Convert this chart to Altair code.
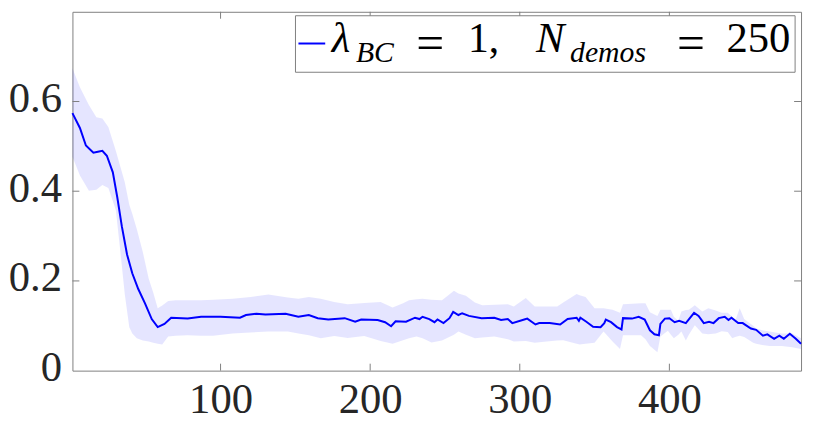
import altair as alt
import pandas as pd

# ---- data ----
x_mean = [1, 6, 10, 15, 18, 21, 24, 28, 31, 34, 37.5, 41, 45, 49.5, 54, 58, 62.5, 67, 78, 87,
          100, 113, 117, 124, 130, 143.5, 152, 159, 165, 172, 183, 190, 194, 205, 210, 214, 217,
          224, 230, 233, 235, 239.5, 243, 245, 249, 253, 255.5, 259, 261.5, 266, 274.5, 283,
          287.5, 292, 295, 303, 305, 310.5, 313, 320, 327, 332, 338, 339.5, 340.5, 344.5, 349,
          354, 356.5, 357.5, 361, 365, 368, 369, 375, 379.5, 383.5, 387, 390, 393, 394, 397, 400,
          403.5, 406.5, 411, 416.5, 419.5, 423, 426.5, 429.5, 433, 437, 439.5, 441.5, 446, 449,
          454.5, 458, 462.5, 465.5, 470, 473.5, 476.5, 480.5, 484.5, 488]
y_mean = [0.574, 0.541, 0.502, 0.486, 0.488, 0.490, 0.479, 0.442, 0.386, 0.322, 0.259, 0.217,
          0.182, 0.150, 0.115, 0.097, 0.104, 0.118, 0.116, 0.120, 0.120, 0.118, 0.124, 0.127,
          0.125, 0.127, 0.120, 0.124, 0.117, 0.114, 0.117, 0.109, 0.114, 0.113, 0.108, 0.099,
          0.110, 0.109, 0.118, 0.115, 0.120, 0.115, 0.108, 0.114, 0.106, 0.117, 0.131, 0.124,
          0.128, 0.122, 0.117, 0.118, 0.113, 0.115, 0.106, 0.114, 0.116, 0.103, 0.106, 0.106,
          0.103, 0.115, 0.118, 0.111, 0.118, 0.109, 0.098, 0.097, 0.106, 0.114, 0.108, 0.097,
          0.092, 0.117, 0.116, 0.120, 0.114, 0.090, 0.081, 0.079, 0.104, 0.116, 0.117, 0.108,
          0.111, 0.106, 0.129, 0.122, 0.106, 0.109, 0.106, 0.117, 0.120, 0.113, 0.118, 0.106,
          0.106, 0.094, 0.091, 0.078, 0.081, 0.071, 0.078, 0.071, 0.082, 0.071, 0.060]

x_band = [1, 6, 12, 17, 21, 25, 30, 33, 36, 39,
          41, 44, 48, 52, 55, 58, 61, 65, 70, 78,
          87, 95, 108, 120, 132, 145, 152, 159, 167, 176,
          185, 196, 207, 215, 222, 226, 231, 235, 241, 248,
          256, 259, 264, 270, 275, 283, 292, 296, 304, 310,
          318, 325, 329, 338, 340, 344, 350, 356, 362, 367,
          369, 375, 381, 384, 387, 392, 394, 399, 401, 403,
          406, 408, 411, 413, 417, 422, 426, 431, 435, 439,
          442, 444, 447, 450, 456, 458, 462, 467, 475, 482,
          488]
band_upper = [0.674, 0.632, 0.592, 0.565, 0.562, 0.543, 0.490, 0.455, 0.420, 0.370,
              0.350, 0.316, 0.265, 0.205, 0.174, 0.139, 0.145, 0.155, 0.157, 0.157,
              0.157, 0.158, 0.160, 0.164, 0.170, 0.163, 0.160, 0.164, 0.160, 0.153,
              0.148, 0.151, 0.153, 0.141, 0.150, 0.157, 0.159, 0.160, 0.158, 0.157,
              0.178, 0.172, 0.167, 0.152, 0.146, 0.147, 0.148, 0.143, 0.162, 0.143,
              0.143, 0.143, 0.152, 0.171, 0.168, 0.164, 0.139, 0.139, 0.136, 0.129,
              0.148, 0.149, 0.150, 0.150, 0.130, 0.122, 0.136, 0.136, 0.136, 0.120,
              0.111, 0.132, 0.135, 0.136, 0.146, 0.132, 0.139, 0.134, 0.129, 0.129,
              0.120, 0.111, 0.139, 0.115, 0.100, 0.094, 0.090, 0.087, 0.083, 0.083,
              0.072]
band_lower = [0.477, 0.435, 0.401, 0.403, 0.414, 0.407, 0.358, 0.266, 0.170, 0.097,
              0.083, 0.072, 0.067, 0.065, 0.062, 0.060, 0.058, 0.076, 0.078, 0.079,
              0.078, 0.078, 0.083, 0.085, 0.087, 0.087, 0.083, 0.079, 0.072, 0.077,
              0.073, 0.077, 0.066, 0.060, 0.068, 0.072, 0.076, 0.072, 0.063, 0.067,
              0.080, 0.087, 0.080, 0.072, 0.074, 0.076, 0.070, 0.065, 0.066, 0.062,
              0.065, 0.067, 0.068, 0.060, 0.058, 0.060, 0.062, 0.087, 0.065, 0.048,
              0.079, 0.079, 0.079, 0.070, 0.055, 0.041, 0.076, 0.089, 0.080, 0.072,
              0.080, 0.087, 0.067, 0.080, 0.101, 0.083, 0.081, 0.083, 0.088, 0.086,
              0.072, 0.075, 0.078, 0.075, 0.062, 0.060, 0.057, 0.055, 0.055, 0.052,
              0.048]

x_ticks = [100, 200, 300, 400]
y_ticks = [0, 0.2, 0.4, 0.6]
x_domain = [1, 488]
y_domain = [0, 0.8]

# ---- styling ----
W, H = 735, 362
FONT = "Liberation Serif, Times New Roman, serif"
AX = "#808080"
LBL = "#262626"
BLUE = "#0000ff"
TICK = 7

xs = alt.Scale(domain=x_domain, nice=False, zero=False)
ys = alt.Scale(domain=y_domain, nice=False)
x_axis = alt.Axis(values=x_ticks, title=None, domain=False, ticks=False, grid=False,
                  labelFont=FONT, labelFontSize=43, labelColor=LBL, labelPadding=8,
                  format="d")
y_axis = alt.Axis(values=y_ticks, title=None, domain=False, ticks=False, grid=False,
                  labelFont=FONT, labelFontSize=43, labelColor=LBL, labelPadding=11,
                  format=".1~f", labelOffset=-3)


def X(f):
    return alt.X(f, scale=xs, axis=x_axis)


def Y(f):
    return alt.Y(f, scale=ys, axis=y_axis)


mean_df = pd.DataFrame({"x": x_mean, "y": y_mean})
band_df = pd.DataFrame({"x": x_band, "lo": band_lower, "hi": band_upper})
xt_df = pd.DataFrame({"t": x_ticks})
yt_df = pd.DataFrame({"t": [v for v in y_ticks if v > 0]})
one = pd.DataFrame({"k": [0]})

band = alt.Chart(band_df).mark_area(color=BLUE, opacity=0.1).encode(
    x=X("x:Q"), y=Y("lo:Q"), y2="hi:Q")
line = alt.Chart(mean_df).mark_line(color=BLUE, strokeWidth=2).encode(
    x=X("x:Q"), y=Y("y:Q"))

tb = alt.Chart(xt_df).mark_rule(color=AX, strokeWidth=1).encode(
    x=X("t:Q"), y=alt.value(H), y2=alt.value(H - TICK))
tt = alt.Chart(xt_df).mark_rule(color=AX, strokeWidth=1).encode(
    x=X("t:Q"), y=alt.value(0), y2=alt.value(TICK))
tl = alt.Chart(yt_df).mark_rule(color=AX, strokeWidth=1).encode(
    y=Y("t:Q"), x=alt.value(0), x2=alt.value(TICK))
tr = alt.Chart(yt_df).mark_rule(color=AX, strokeWidth=1).encode(
    y=Y("t:Q"), x=alt.value(W), x2=alt.value(W - TICK))

# ---- legend (drawn in pixel space) ----
br = W - 6
bl = br - 504
bt = 4
bb = bt + 57

box = alt.Chart(one).mark_rect(fill="white", stroke=AX, strokeWidth=1).encode(
    x=alt.value(bl), x2=alt.value(br), y=alt.value(bt), y2=alt.value(bb))
leg_line = alt.Chart(one).mark_rule(color=BLUE, strokeWidth=2).encode(
    x=alt.value(bl + 3), x2=alt.value(bl + 30), y=alt.value(bt + 28))

base_y = bt + 37
sub_y = bt + 47
eq_y = bt + 29


def txt(s, x, y, size=41, italic=False, align="left", baseline="alphabetic"):
    kw = dict(font=FONT, fontSize=size, align=align, baseline=baseline, color="black")
    if italic:
        kw["fontStyle"] = "italic"
    return alt.Chart(one).mark_text(**kw).encode(
        x=alt.value(x), y=alt.value(y), text=alt.value(s))


legend_parts = [
    txt("λ", bl + 46, base_y, size=43, italic=True, align="center"),
    txt("BC", bl + 61, sub_y, size=30, italic=True),
    txt("=", bl + 136, eq_y, size=50, align="center", baseline="middle"),
    txt("1,", bl + 174, base_y, size=42),
    txt("N", bl + 257, base_y, size=43, italic=True, align="center"),
    txt("demos", bl + 277, sub_y, size=30, italic=True),
    txt("=", bl + 399, eq_y, size=50, align="center", baseline="middle"),
    txt("250", bl + 467, base_y, size=43, align="center"),
]

chart = alt.layer(band, line, tb, tt, tl, tr, box, leg_line, *legend_parts).properties(
    width=W, height=H, padding={"left": 0, "top": 1, "right": 1, "bottom": 0}
).configure_view(stroke=AX, strokeWidth=1)

chart.save("out.html", embed_options={"renderer": "svg", "actions": False})
